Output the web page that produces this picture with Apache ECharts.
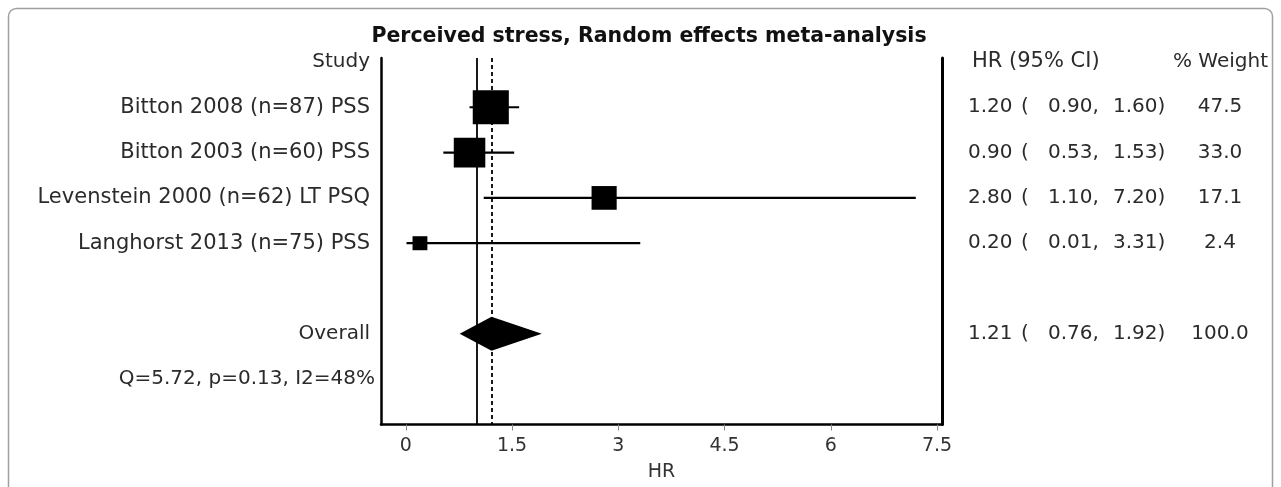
<!DOCTYPE html>
<html>
<head>
<meta charset="utf-8">
<script src="https://cdn.jsdelivr.net/npm/echarts@6/dist/echarts.min.js"></script>
<style>
html,body{margin:0;padding:0;background:#fff;}
#chart{width:1281px;height:487px;}
</style>
</head>
<body>
<div id="chart"></div>
<script>
// ---- data ----
const titleText = 'Perceived stress, Random effects meta-analysis';
const studies = ['Bitton 2008 (n=87) PSS', 'Bitton 2003 (n=60) PSS', 'Levenstein 2000 (n=62) LT PSQ', 'Langhorst 2013 (n=75) PSS'];
const hr = [1.20, 0.90, 2.80, 0.20];
const lower = [0.90, 0.53, 1.10, 0.01];
const upper = [1.60, 1.53, 7.20, 3.31];
const weight = [47.5, 33.0, 17.1, 2.4];
const overallLabel = 'Overall';
const overallHR = [1.21];
const overallLower = [0.76];
const overallUpper = [1.92];
const overallWeight = [100.0];
const heterogeneity = 'Q=5.72, p=0.13, I2=48%';
const xTicks = [0, 1.5, 3, 4.5, 6, 7.5];
const nullValue = [1];
const headers = ['Study', 'HR (95% CI)', '% Weight'];
const xAxisName = 'HR';

// ---- rows on the y axis ----
const studyRows = studies.map((s, i) => i + 1);
const overallRow = studies.length + 2;
const hetRow = overallRow + 1;

const leftLabels = {};
leftLabels[0] = '{t|' + headers[0] + '}{g| }';
studies.forEach((s, i) => { leftLabels[studyRows[i]] = '{s|' + s + '}{g| }'; });
leftLabels[overallRow] = '{t|' + overallLabel + '}{g| }';
leftLabels[hetRow] = '{t|' + heterogeneity + '}';

const f2 = v => v.toFixed(2);
const ciText = (h, l, u, w) => '{a|' + f2(h) + '}{b|(}{c|' + f2(l) + ',}{d|' + f2(u) + ')}{w|' + w.toFixed(1) + '}';
const rightLabels = {};
rightLabels[0] = '{p| }{h1|' + headers[1] + '}{h2|' + headers[2] + '}';
studies.forEach((s, i) => { rightLabels[studyRows[i]] = ciText(hr[i], lower[i], upper[i], weight[i]); });
rightLabels[overallRow] = ciText(overallHR[0], overallLower[0], overallUpper[0], overallWeight[0]);

const leftRowValues = Object.keys(leftLabels).map(Number);
const rightRowValues = Object.keys(rightLabels).map(Number);

const squareData = studies.map((s, i) => [hr[i], studyRows[i], weight[i]]);
const ciData = studies.map((s, i) => [lower[i], upper[i], studyRows[i]]);
const diamondData = [[overallLower[0], overallHR[0], overallUpper[0], overallRow]];

const txt = '#2b2b2b';
const FF = 'DejaVu Sans';
const yMin = -0.087, yMax = 8;
const num = {fontSize: 20, fontFamily: FF, color: txt};

const chart = echarts.init(document.getElementById('chart'), null, {renderer: 'canvas'});
chart.setOption({
  animation: false,
  backgroundColor: '#fff',
  title: {
    text: titleText, left: 644, top: 21, textAlign: 'center',
    textStyle: {fontFamily: FF, fontWeight: 'bold', fontSize: 20.5, color: '#111'}
  },
  graphic: [{
    type: 'rect', silent: true,
    shape: {x: 8.5, y: 8.5, width: 1264, height: 520, r: 8},
    style: {fill: 'none', stroke: '#a0a0a0', lineWidth: 1.5}
  }],
  grid: {left: 381, right: 339, top: 58, bottom: 57, containLabel: false},
  xAxis: {
    type: 'value', min: -0.35, max: 7.57,
    splitLine: {show: false},
    axisLine: {onZero: false, lineStyle: {color: '#000', width: 2.5}},
    axisTick: {customValues: xTicks, length: 6, lineStyle: {color: '#888', width: 1}},
    axisLabel: {customValues: xTicks, fontSize: 19, color: '#333', margin: 12, fontFamily: FF},
    name: xAxisName, nameLocation: 'middle', nameGap: 48,
    nameTextStyle: {fontSize: 19, color: '#333', fontFamily: FF, verticalAlign: 'middle'}
  },
  yAxis: [{
    type: 'value', inverse: true, min: yMin, max: yMax, position: 'left',
    splitLine: {show: false},
    axisLine: {show: true, onZero: false, lineStyle: {color: '#000', width: 2.5}},
    axisTick: {show: false},
    axisLabel: {
      customValues: leftRowValues, margin: 6,
      formatter: v => leftLabels[Math.round(v)] || '',
      rich: {
        t: {fontSize: 20, fontFamily: FF, color: txt},
        s: {fontSize: 21, fontFamily: FF, color: txt},
        g: {fontSize: 20, width: 5}
      }
    }
  }, {
    type: 'value', inverse: true, min: yMin, max: yMax, position: 'right',
    splitLine: {show: false},
    axisLine: {show: true, onZero: false, lineStyle: {color: '#000', width: 3}},
    axisTick: {show: false},
    axisLabel: {
      customValues: rightRowValues, margin: 26, align: 'left',
      formatter: v => rightLabels[Math.round(v)] || '',
      rich: {
        p: {fontSize: 20, width: 4},
        h1: {fontSize: 21, fontFamily: FF, color: txt, width: 201},
        h2: {fontSize: 20, fontFamily: FF, color: txt},
        a: Object.assign({width: 53}, num),
        b: Object.assign({width: 27}, num),
        c: Object.assign({width: 65}, num),
        d: Object.assign({width: 67}, num),
        w: Object.assign({width: 80, align: 'center'}, num)
      }
    }
  }],
  series: [{
    type: 'custom', name: 'ci', yAxisIndex: 0, silent: true,
    encode: {x: [0, 1], y: 2},
    renderItem: (params, api) => {
      const a = api.coord([api.value(0), api.value(2)]);
      const b = api.coord([api.value(1), api.value(2)]);
      return {type: 'line', shape: {x1: a[0], y1: a[1], x2: b[0], y2: b[1]}, style: {stroke: '#000', lineWidth: 2.2}};
    },
    data: ciData
  }, {
    type: 'scatter', name: 'studies', yAxisIndex: 0, silent: true,
    symbol: 'rect',
    symbolSize: v => { const s = 8.2 + 3.75 * Math.sqrt(v[2]); return [s * 1.06, s]; },
    itemStyle: {color: '#000', opacity: 1},
    z: 3,
    data: squareData,
    markLine: {
      silent: true, symbol: 'none', label: {show: false}, z: 1,
      data: [
        {xAxis: nullValue[0], lineStyle: {type: 'solid', width: 1.8, color: '#000', opacity: 1}},
        {xAxis: overallHR[0], lineStyle: {type: [4, 3], width: 1.8, color: '#000', opacity: 1}}
      ]
    }
  }, {
    type: 'custom', name: 'overall', yAxisIndex: 0, silent: true, z: 4,
    encode: {x: [0, 1, 2], y: 3},
    renderItem: (params, api) => {
      const l = api.coord([api.value(0), api.value(3)]);
      const c = api.coord([api.value(1), api.value(3)]);
      const u = api.coord([api.value(2), api.value(3)]);
      const h = 17;
      return {type: 'polygon', shape: {points: [[l[0], l[1]], [c[0], c[1] - h], [u[0], u[1]], [c[0], c[1] + h]]}, style: {fill: '#000'}};
    },
    data: diamondData
  }]
});
</script>
</body>
</html>
